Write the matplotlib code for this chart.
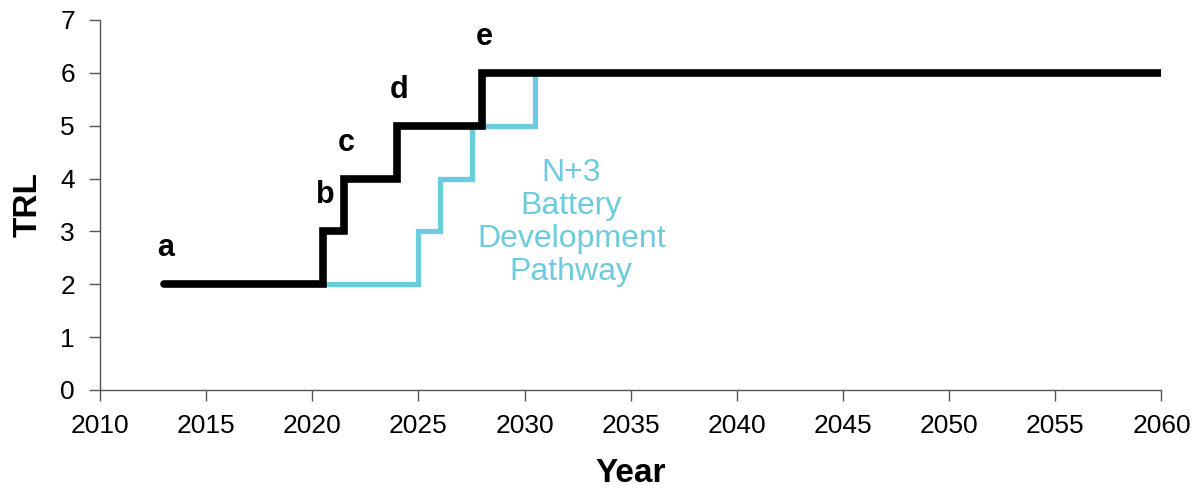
import matplotlib
matplotlib.use("Agg")
import matplotlib.pyplot as plt

# Baseline TRL pathway (black) and N+3 battery pathway (cyan)
base_years = [2013, 2020.5, 2021.5, 2024, 2028, 2060]
base_trl = [2, 3, 4, 5, 6, 6]
n3_years = [2020.5, 2025, 2026, 2027.5, 2030.5]
n3_trl = [2, 3, 4, 5, 6]
step_labels = ["a", "b", "c", "d", "e"]

x_ticks = list(range(2010, 2061, 5))
y_ticks = list(range(0, 8))

CYAN = "#6ccbdc"
AXIS = "#555555"

plt.rcParams["font.family"] = ["Liberation Sans", "DejaVu Sans"]

fig = plt.figure(figsize=(11.98, 4.93), dpi=100)
ax = fig.add_axes([0.0835, 0.209, 0.886, 0.7505])

ax.step(n3_years, n3_trl, where="post", color=CYAN, lw=3.8,
        solid_joinstyle="miter", solid_capstyle="butt")
ax.step(base_years, base_trl, where="post", color="black", lw=5.5,
        solid_joinstyle="miter", solid_capstyle="round")

# step letters above each rise of the black line
for lab, x, y in zip(step_labels, base_years, base_trl):
    ax.text(x + 0.1, y + 0.68, lab, ha="center", va="center",
            fontsize=22, fontweight="bold", color="black")

ax.text(2032.2, 3.17, "N+3\nBattery\nDevelopment\nPathway", ha="center",
        va="center", fontsize=23, color=CYAN, linespacing=1.12)

ax.set_xlim(2010, 2060)
ax.set_ylim(0, 7)
ax.set_xticks(x_ticks)
ax.set_yticks(y_ticks)
ax.tick_params(axis="both", direction="out", length=8, width=1,
               color=AXIS, labelsize=19)
ax.tick_params(axis="x", pad=9)
ax.tick_params(axis="y", pad=10)
for side in ("top", "right"):
    ax.spines[side].set_visible(False)
for side in ("left", "bottom"):
    ax.spines[side].set_color(AXIS)
    ax.spines[side].set_linewidth(1)

ax.set_xlabel("Year", fontsize=24, fontweight="bold", labelpad=15)
ax.set_ylabel("TRL", fontsize=24, fontweight="bold", labelpad=12)

fig.savefig("out.png", dpi=100)
